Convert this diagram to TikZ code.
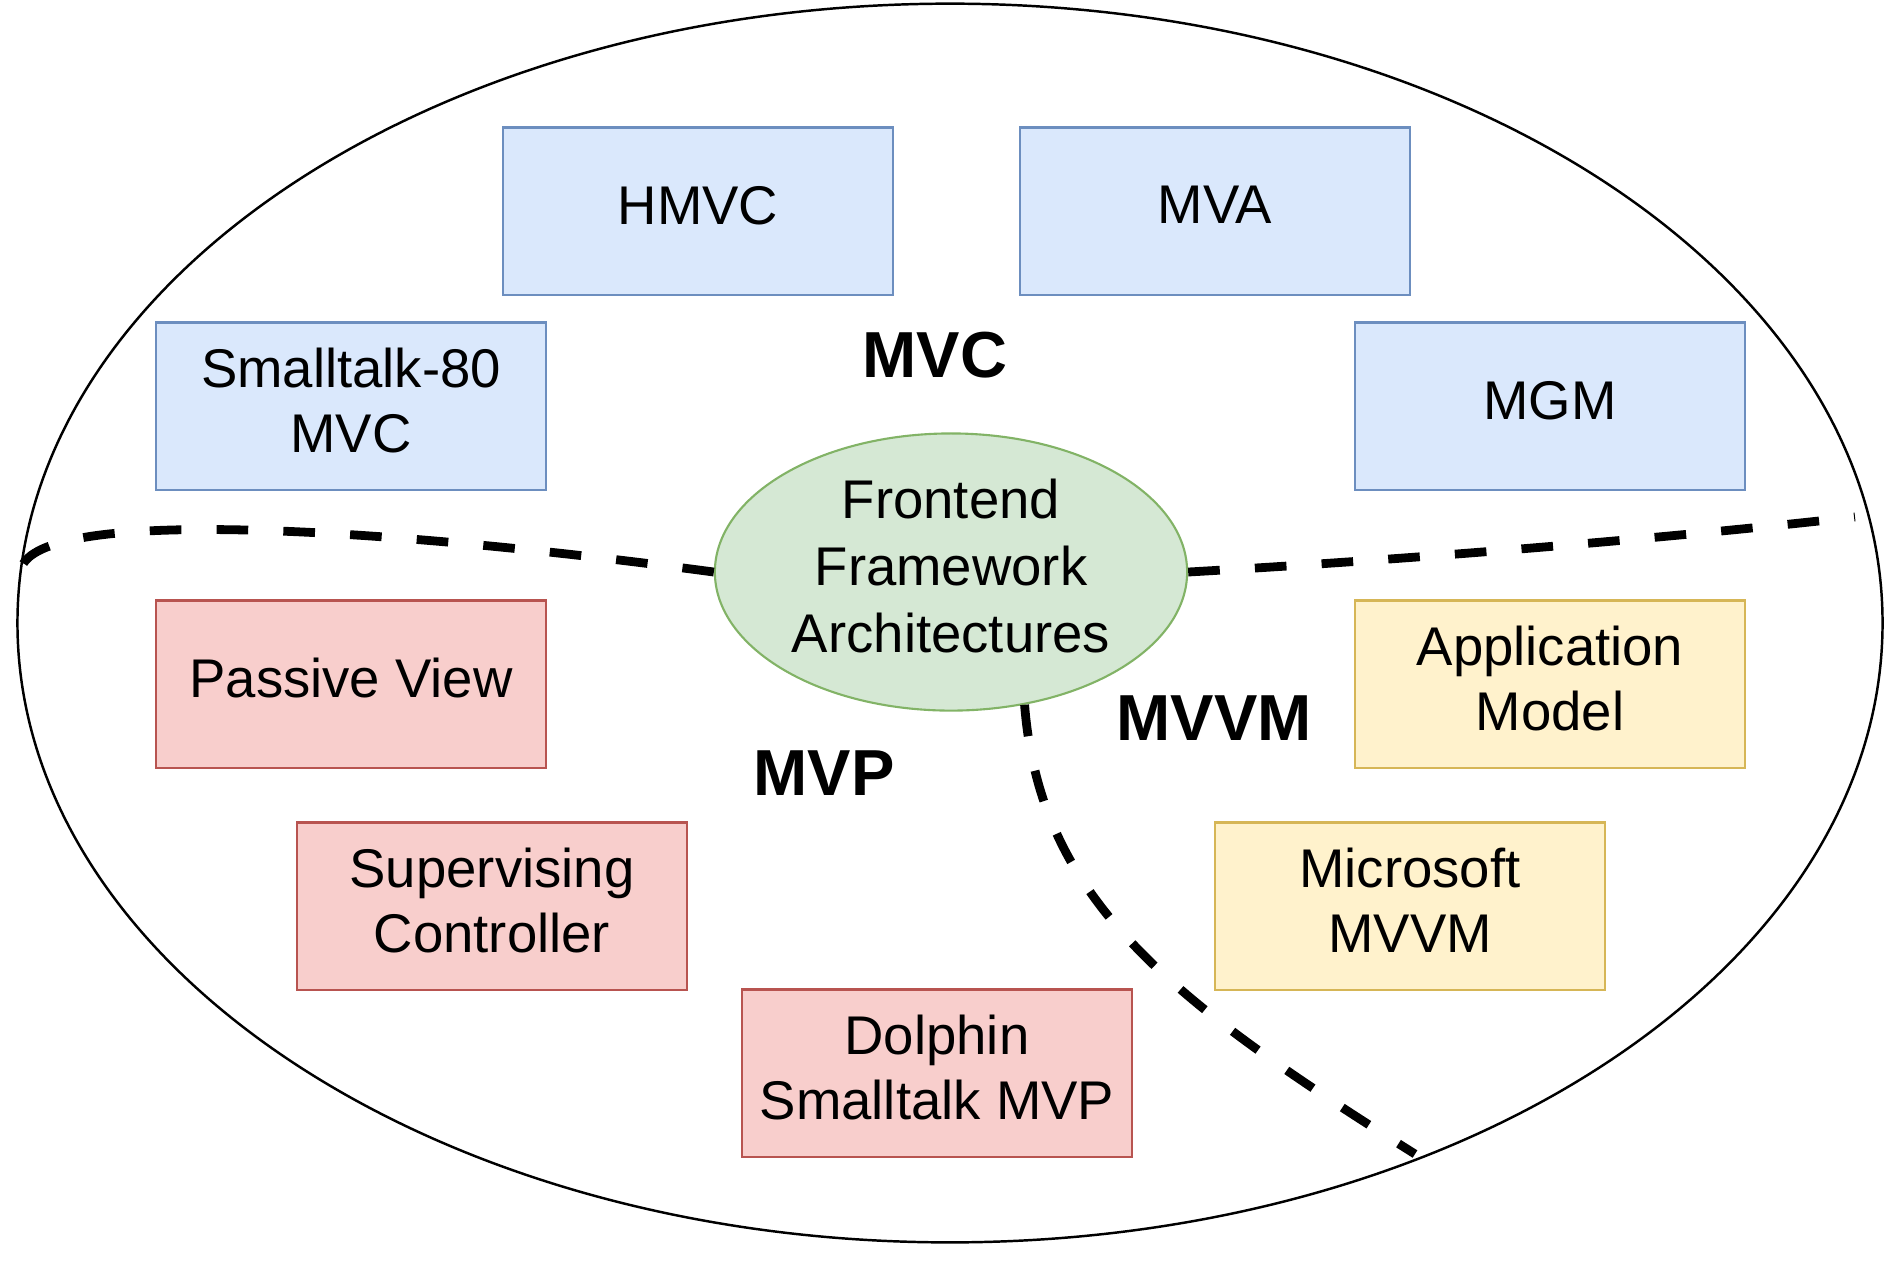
\documentclass[tikz,border=0pt]{standalone}
\usepackage{fontspec}
\setmainfont{Liberation Sans}
\usepackage{tikz}
\usetikzlibrary{shapes.geometric}

\definecolor{mvcfill}{HTML}{DAE8FC}
\definecolor{mvcline}{HTML}{6C8EBF}
\definecolor{mvpfill}{HTML}{F8CECC}
\definecolor{mvpline}{HTML}{B85450}
\definecolor{mvvmfill}{HTML}{FFF2CC}
\definecolor{mvvmline}{HTML}{D6B656}
\definecolor{corefill}{HTML}{D5E8D4}
\definecolor{coreline}{HTML}{82B366}

\begin{document}
\begin{tikzpicture}[x=0.01cm,y=-0.01cm,
    archbox/.style={rectangle, draw, line width=0.6pt, minimum width=3.9cm,
        minimum height=1.67cm, align=center, inner sep=2pt, text depth=3.4pt,
        font=\fontsize{15.5}{18.5}\selectfont},
    mvcbox/.style={archbox, fill=mvcfill, draw=mvcline},
    mvpbox/.style={archbox, fill=mvpfill, draw=mvpline},
    mvvmbox/.style={archbox, fill=mvvmfill, draw=mvvmline},
    family/.style={font=\fontsize{18.5}{22}\selectfont\bfseries},
    border/.style={line width=2.5pt, dash pattern=on 9pt off 10pt}]
            \useasboundingbox (0,0) rectangle (1900,1262);
            \draw[line width=0.7pt] (950,623) ellipse [x radius=9.32cm, y radius=6.19cm];

            \node[mvcbox] (hmvc) at (698,211) {HMVC};
            \node[mvcbox] (mva) at (1215,211) {MVA};
            \node[mvcbox] (st80) at (351,406) {Smalltalk-80\\MVC};
            \node[mvcbox] (mgm) at (1550,406) {MGM};

            \node[mvpbox] (passive) at (351,684) {Passive View};
            \node[mvpbox] (supervising) at (492,906) {Supervising\\Controller};
            \node[mvpbox] (dolphin) at (937,1073) {Dolphin\\Smalltalk MVP};

            \node[mvvmbox] (appmodel) at (1550,684) {Application\\Model};
            \node[mvvmbox] (msmvvm) at (1410,906) {Microsoft\\MVVM};

            \node[ellipse, draw=coreline, fill=corefill, line width=0.6pt,
                minimum width=4.72cm, minimum height=2.77cm, inner sep=0pt,
                align=center, text depth=3.4pt, font=\fontsize{15.5}{19}\selectfont]
                (core) at (951,572) {Frontend\\Framework\\Architectures};

            \node[family] (mvc) at (935,355) {MVC};
            \node[family] (mvp) at (824,773) {MVP};
            \node[family] (mvvm) at (1214,718) {MVVM};

            \coordinate (leftend) at (22,566);
            \coordinate (rightend) at (1855,517);
            \coordinate (bottomend) at (1415,1154);

            \draw[border] (core.west) .. controls (400,530) and (50,505) .. (leftend);
            \draw[border] (core.east) .. controls (1400,560) and (1650,540) .. (rightend);
            \draw[border] (core.-61) .. controls (1040,900) and (1170,1000) .. (bottomend);
        \end{tikzpicture}
\end{document}
